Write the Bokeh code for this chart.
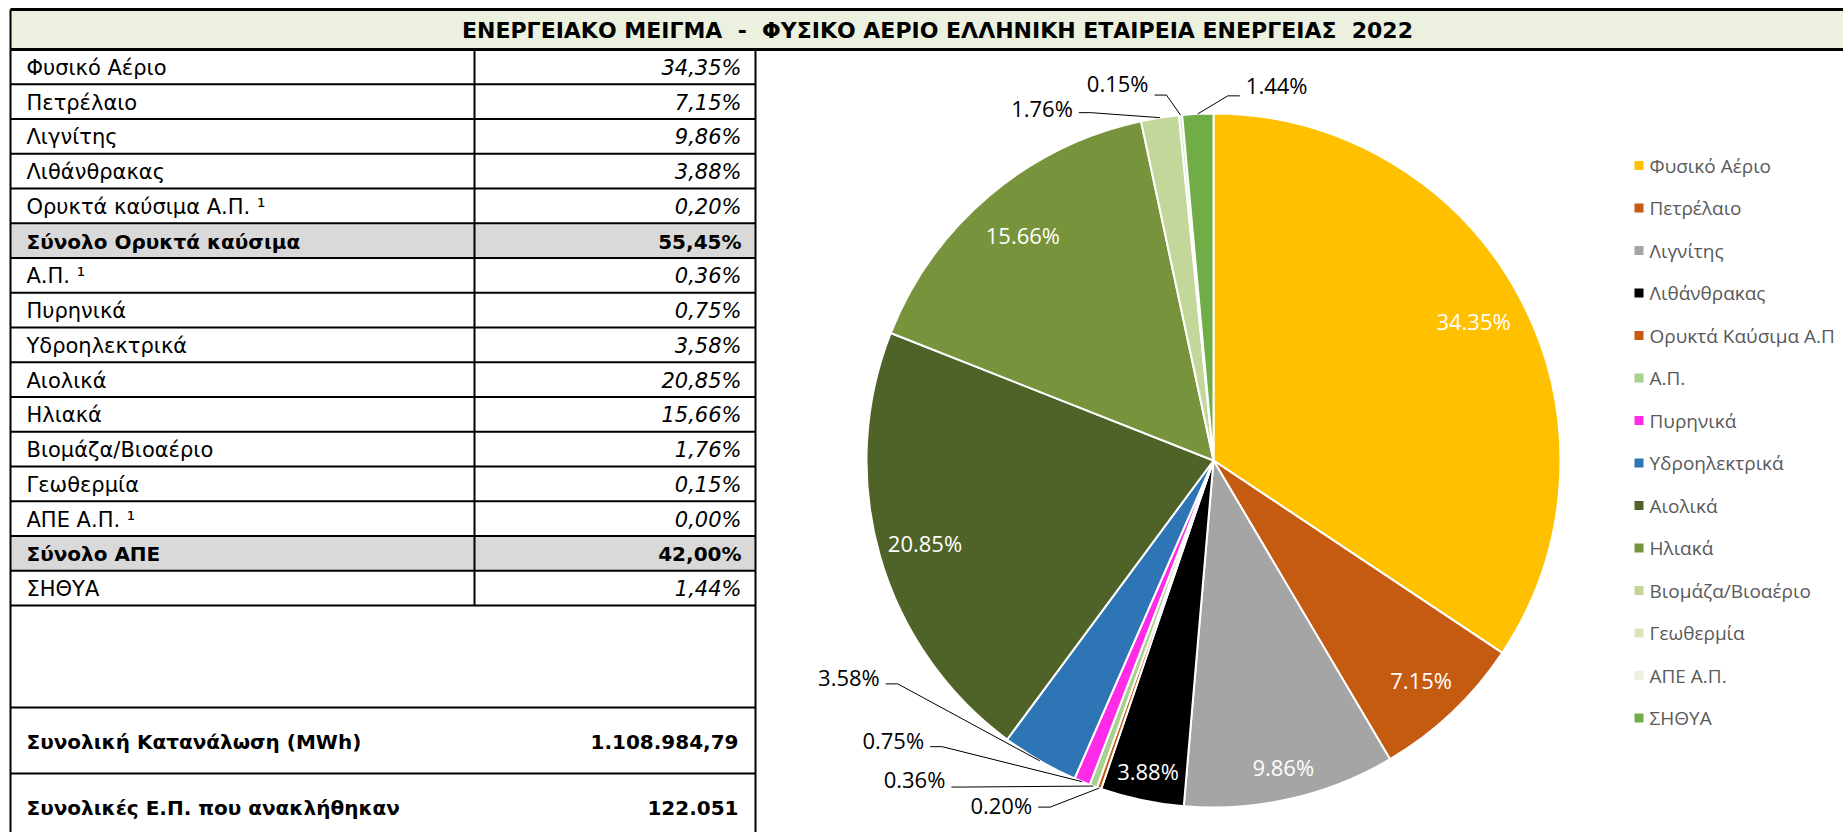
import math
from bokeh.plotting import figure
from bokeh.models import Range1d
from bokeh.core.properties import value
from bokeh.embed import file_html
from bokeh.resources import INLINE

# ---------------- data ----------------
title_text = "ΕΝΕΡΓΕΙΑΚΟ ΜΕΙΓΜΑ  -  ΦΥΣΙΚΟ ΑΕΡΙΟ ΕΛΛΗΝΙΚΗ ΕΤΑΙΡΕΙΑ ΕΝΕΡΓΕΙΑΣ  2022"

table_labels = ["Φυσικό Αέριο", "Πετρέλαιο", "Λιγνίτης", "Λιθάνθρακας",
                "Ορυκτά καύσιμα Α.Π. ¹", "Σύνολο Ορυκτά καύσιμα", "Α.Π. ¹",
                "Πυρηνικά", "Υδροηλεκτρικά", "Αιολικά", "Ηλιακά",
                "Βιομάζα/Βιοαέριο", "Γεωθερμία", "ΑΠΕ Α.Π. ¹", "Σύνολο ΑΠΕ", "ΣΗΘΥΑ"]
table_values = [34.35, 7.15, 9.86, 3.88, 0.20, 55.45, 0.36, 0.75, 3.58,
                20.85, 15.66, 1.76, 0.15, 0.00, 42.00, 1.44]
total_rows = ["Σύνολο Ορυκτά καύσιμα", "Σύνολο ΑΠΕ"]

summary_labels = ["Συνολική Κατανάλωση (MWh)", "Συνολικές Ε.Π. που ανακλήθηκαν"]
summary_values = ["1.108.984,79", "122.051"]

pie_labels = ["Φυσικό Αέριο", "Πετρέλαιο", "Λιγνίτης", "Λιθάνθρακας",
              "Ορυκτά Καύσιμα Α.Π", "Α.Π.", "Πυρηνικά", "Υδροηλεκτρικά",
              "Αιολικά", "Ηλιακά", "Βιομάζα/Βιοαέριο", "Γεωθερμία",
              "ΑΠΕ Α.Π.", "ΣΗΘΥΑ"]
pie_values = [34.35, 7.15, 9.86, 3.88, 0.20, 0.36, 0.75, 3.58,
              20.85, 15.66, 1.76, 0.15, 0.00, 1.44]
pie_colors = ["#FFC000", "#C55A11", "#A5A5A5", "#000000", "#C55A11", "#A9D18E",
              "#FF2BE8", "#2E75B6", "#4F6228", "#77933C", "#C4D79B", "#D8E4BC",
              "#EBF1DE", "#70AD47"]

# ---------------- layout / style (screen-pixel based) ----------------
TFONT = "DejaVu Sans"
PFONT = "Open Sans"
W, H = 1843, 832
p = figure(width=W, height=H, x_range=Range1d(0, W), y_range=Range1d(H, 0),
           output_backend="svg", toolbar_location=None, min_border=0,
           x_axis_location=None, y_axis_location=None)
p.grid.visible = False
p.outline_line_color = None
p.background_fill_color = "white"
p.border_fill_color = "white"

# --- title bar ---
tb_top, tb_bot, left_x, right_edge = 9, 49, 10, 1850
p.quad(left=[left_x], right=[right_edge], top=[tb_top], bottom=[tb_bot],
       fill_color="#EBF1DE", line_color=None)
p.segment(x0=[left_x, left_x], y0=[tb_top, tb_bot], x1=[right_edge, right_edge], y1=[tb_top, tb_bot],
          line_color="black", line_width=3)
p.segment(x0=[left_x], y0=[tb_top], x1=[left_x], y1=[tb_bot], line_color="black", line_width=2)
p.text(x=[937], y=[(tb_top + tb_bot) / 2 + 1], text=[title_text.replace(" ", "\u00a0")],
       text_font=value(TFONT), text_font_style="bold", text_font_size="22px",
       text_align="center", text_baseline="middle", text_color="black")

# --- table ---
row_h = 34.75
col_x, tab_right = 474, 755
n = len(table_labels)
tops = [tb_bot + i * row_h for i in range(n)]
mids = [t + row_h / 2 + 1 for t in tops]
tot_idx = [i for i, l in enumerate(table_labels) if l in total_rows]
p.quad(left=[left_x] * len(tot_idx), right=[tab_right] * len(tot_idx),
       top=[tops[i] for i in tot_idx], bottom=[tops[i] + row_h for i in tot_idx],
       fill_color="#D9D9D9", line_color=None)

table_bottom = tb_bot + n * row_h
sum_top1, sum_top2, page_bottom = 707, 773, 840
hy = [tb_bot + k * row_h for k in range(1, n + 1)] + [sum_top1, sum_top2]
p.segment(x0=[left_x] * len(hy), x1=[tab_right] * len(hy), y0=hy, y1=hy,
          line_color="black", line_width=2)
p.segment(x0=[left_x, col_x, tab_right], x1=[left_x, col_x, tab_right],
          y0=[tb_bot, tb_bot, tb_bot], y1=[page_bottom, table_bottom, page_bottom],
          line_color="black", line_width=2)

def fmt_gr(v):
    return f"{v:.2f}".replace(".", ",") + "%"

TS = "21px"
norm = [i for i in range(n) if i not in tot_idx]
p.text(x=[26] * len(norm), y=[mids[i] for i in norm], text=[table_labels[i] for i in norm],
       text_font=value(TFONT), text_font_size=TS, text_baseline="middle",
       text_color="black")
p.text(x=[741] * len(norm), y=[mids[i] for i in norm], text=[fmt_gr(table_values[i]) for i in norm],
       text_font=value(TFONT), text_font_size=TS, text_font_style="italic",
       text_align="right", text_baseline="middle", text_color="black")
p.text(x=[26] * len(tot_idx), y=[mids[i] for i in tot_idx], text=[table_labels[i] for i in tot_idx],
       text_font=value(TFONT), text_font_size="20px", text_font_style="bold",
       text_baseline="middle", text_color="black")
p.text(x=[741] * len(tot_idx), y=[mids[i] for i in tot_idx], text=[fmt_gr(table_values[i]) for i in tot_idx],
       text_font=value(TFONT), text_font_size="20px", text_font_style="bold",
       text_align="right", text_baseline="middle", text_color="black")

sum_mids = [(sum_top1 + sum_top2) / 2 + 1, 807]
p.text(x=[26, 26], y=sum_mids, text=summary_labels, text_font=value(TFONT),
       text_font_size="20px", text_font_style="bold", text_baseline="middle", text_color="black")
p.text(x=[738, 738], y=sum_mids, text=summary_values, text_font=value(TFONT),
       text_font_size="20px", text_font_style="bold", text_align="right",
       text_baseline="middle", text_color="black")

# --- pie ---
cx, cy, R = 1213, 460, 347
total = sum(pie_values)
cum = [0.0]
for v in pie_values:
    cum.append(cum[-1] + v)
starts, ends, cols = [], [], []
for i, v in enumerate(pie_values):
    if v <= 0:
        continue
    starts.append(math.pi / 2 - 2 * math.pi * cum[i + 1] / total)
    ends.append(math.pi / 2 - 2 * math.pi * cum[i] / total)
    cols.append(pie_colors[i])
p.wedge(x=[cx] * len(starts), y=[cy] * len(starts), radius=R, start_angle=starts,
        end_angle=ends, fill_color=cols, line_color="white", line_width=2)

def mid_theta(i):
    return 2 * math.pi * (cum[i] + pie_values[i] / 2) / total

# inside labels: index -> radius factor
inside = {0: 0.85, 1: 0.87, 2: 0.905, 3: 0.915, 8: 0.865, 9: 0.85}
ix, iy, it = [], [], []
for i, f in inside.items():
    t = mid_theta(i)
    ix.append(cx + f * R * math.sin(t))
    iy.append(cy - f * R * math.cos(t))
    it.append(f"{pie_values[i]:.2f}%")
p.text(x=ix, y=iy, text=it, text_font=value(PFONT), text_font_size="22px",
       text_align="center", text_baseline="middle", text_color="white")

# outside labels: index -> (anchor dx, dy from slice edge, side, leader dy)
outside = {7: (-160, -84, "L", 7), 6: (-158, -42, "L", 7), 5: (-148, -7, "L", 8),
           4: (-67, 17, "L", 2), 10: (-87, -10, "L", 5), 11: (-32, -32, "L", 12),
           13: (48, -29, "R", 11)}
ox, oy, ot, oal = [], [], [], []
lxs, lys = [], []
for i, (dx, dy, side, ldy) in outside.items():
    t = mid_theta(i)
    ex, ey = cx + R * math.sin(t), cy - R * math.cos(t)
    ax, ay = ex + dx, ey + dy
    ox.append(ax); oy.append(ay); ot.append(f"{pie_values[i]:.2f}%")
    oal.append("right" if side == "L" else "left")
    s = 1 if side == "L" else -1
    sx0, sy0 = ax + s * 6, ay + ldy
    lxs.append([sx0, sx0 + s * 12, ex])
    lys.append([sy0, sy0, ey])
p.multi_line(xs=lxs, ys=lys, line_color="black", line_width=1)
p.text(x=ox, y=oy, text=ot, text_font=value(PFONT), text_font_size="22px",
       text_align=oal, text_baseline="middle", text_color="black")

# --- legend ---
leg_x, leg_y0, leg_dy = 1638.5, 165, 42.5
ly = [leg_y0 + k * leg_dy for k in range(len(pie_labels))]
p.rect(x=[leg_x] * len(ly), y=ly, width=9, height=9, fill_color=pie_colors, line_color=None)
p.text(x=[leg_x + 10.5] * len(ly), y=ly, text=pie_labels, text_font=value(PFONT),
       text_font_size="19px", text_baseline="middle", text_color="#595959")

open("out.html", "w").write(file_html(p, INLINE))
